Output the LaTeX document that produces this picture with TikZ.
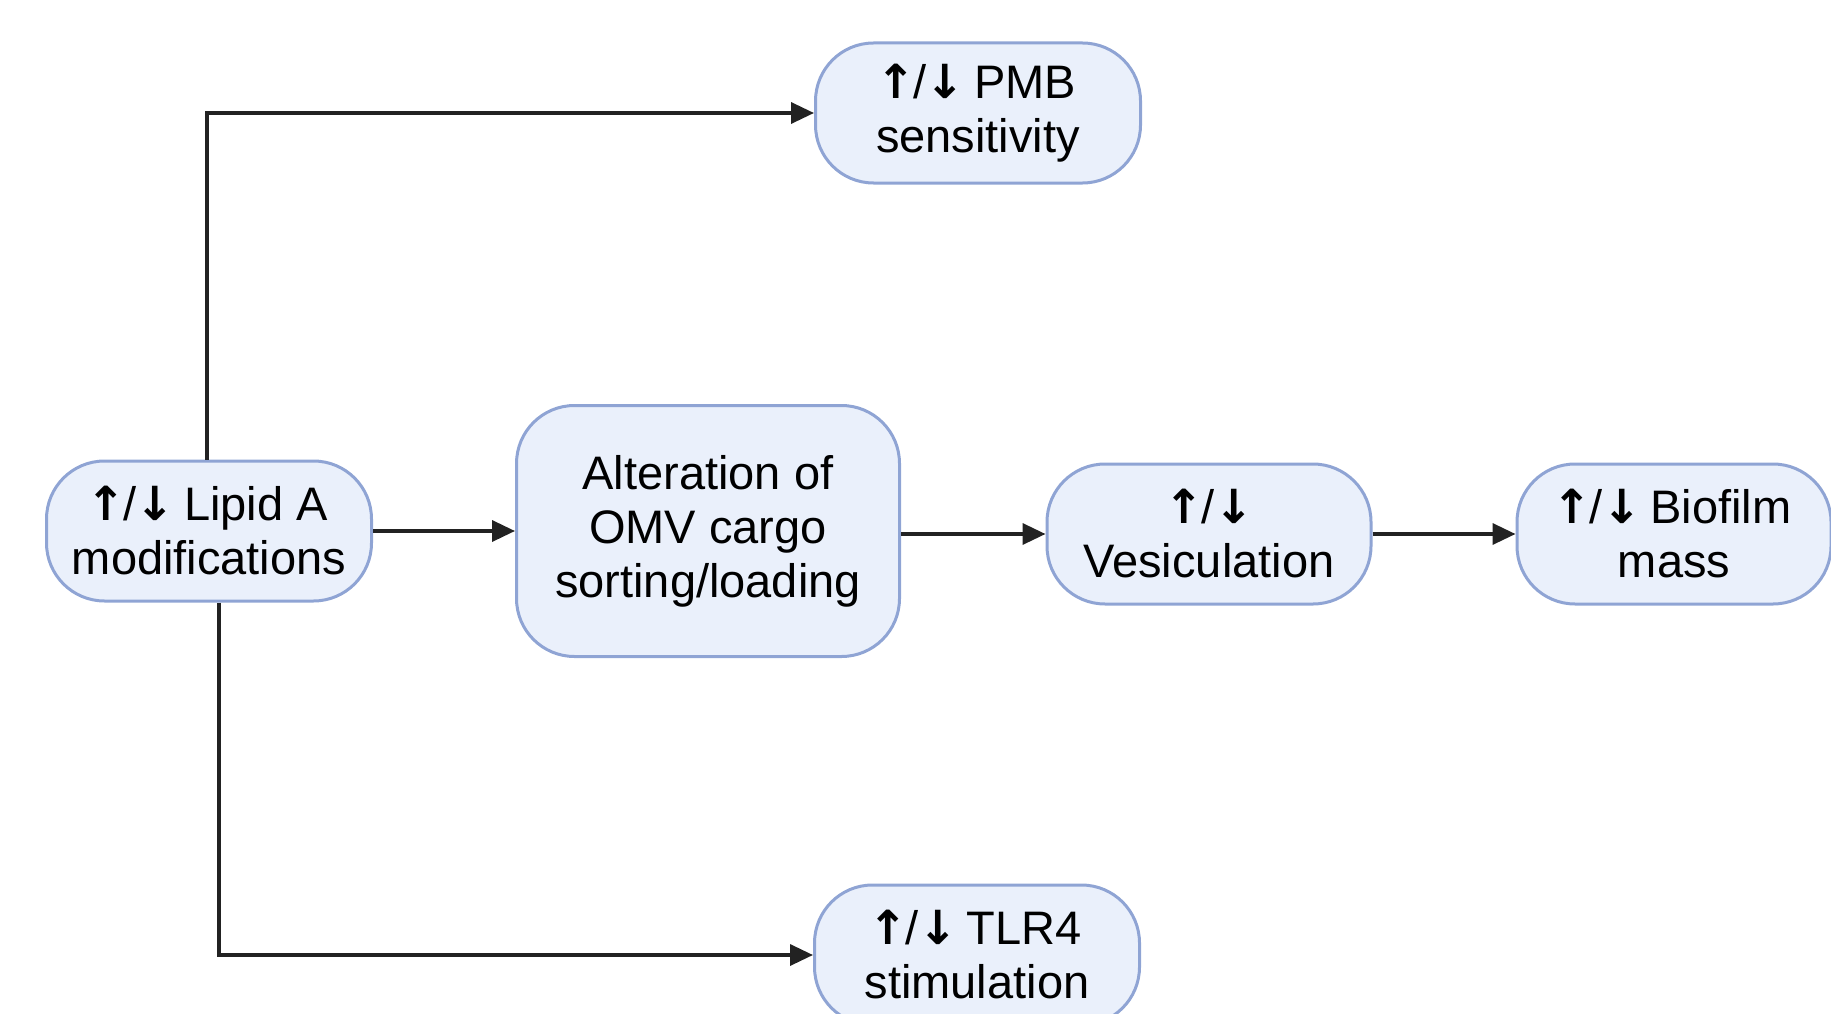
\documentclass[tikz,border=0pt]{standalone}
\usepackage{tikz}
\usepackage{xcolor}
\usepackage{fontspec}
\setmainfont{Liberation Sans}
\newfontfamily\arrowfont{DejaVu Sans}
\usetikzlibrary{arrows.meta}

\definecolor{boxfill}{HTML}{EAF0FB}
\definecolor{boxline}{HTML}{8FA4D4}
\definecolor{linecol}{HTML}{222222}

\newcommand{\updn}{{\arrowfont\bfseries\kern-4pt↑\kern-2pt}/{\arrowfont\bfseries\kern-1pt↓\kern-4pt}}

\begin{document}
\begin{tikzpicture}[x=1pt, y=1pt,
    box/.style={draw=boxline, fill=boxfill, line width=3pt, rounded corners=58pt,
        align=center, inner sep=0pt, minimum width=325pt, minimum height=140pt,
        font=\fontsize{47}{54}\selectfont},
    arr/.style={draw=linecol, line width=3.5pt, -{Triangle[length=23pt, width=21pt]}}]
    \useasboundingbox (0pt, 0pt) rectangle (1831pt, -1014pt);

    % Nodes
    \node[box] (lipid) at (209pt, -531pt) {\updn{} Lipid A\\modifications};

    \node[box] (pmb) at (978pt, -113pt) {\updn{} PMB\\sensitivity};
    \node[box, minimum width=383pt, minimum height=251pt] (omv) at (708pt, -531pt)
        {Alteration of\\OMV cargo\\sorting/loading};
    \node[box] (tlr) at (977pt, -955pt) {\updn{} TLR4\\stimulation};

    \node[box, minimum width=324pt] (ves) at (1209pt, -534pt) {\updn\\Vesiculation};
    \node[box, minimum width=314pt] (bio) at (1674pt, -534pt) {\updn{} Biofilm\\mass};

    % Lines
    \draw[arr] ([xshift=-2pt]lipid.north) |- (pmb);
    \draw[arr] ([xshift=10pt]lipid.south) |- (tlr);
    \draw[arr] (lipid) -- (omv);
    \draw[arr] (omv.east |- ves.west) -- (ves);
    \draw[arr] (ves) -- (bio);

\end{tikzpicture}
\end{document}
